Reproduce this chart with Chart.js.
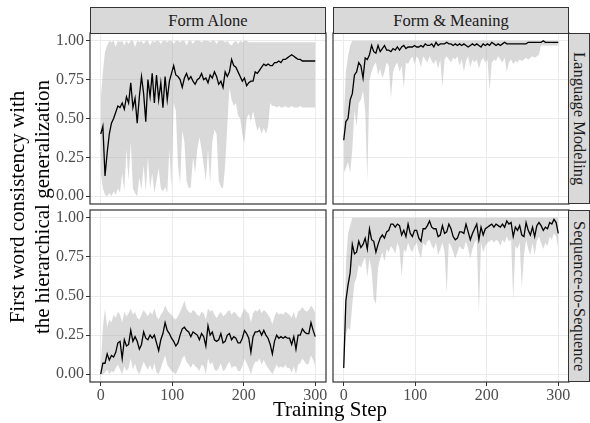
<!DOCTYPE html>
<html>
<head>
<meta charset="utf-8">
<title>First word consistency</title>
<script src="https://cdn.jsdelivr.net/npm/chart.js@4.4.1/dist/chart.umd.min.js"></script>
<style>
  body { margin: 0; width: 590px; height: 423px; position: relative; overflow: hidden; background: #fff; font-family: "Liberation Serif", "DejaVu Serif", serif; }
  canvas { position: absolute; }
  .strip { position: absolute; box-sizing: border-box; background: #d9d9d9; border: 1px solid #333; color: #1a1a1a; font-size: 16.5px; display: flex; align-items: center; justify-content: center; white-space: nowrap; }
  .strip.v { writing-mode: vertical-rl; }
  .title { position: absolute; color: #000; font-size: 21px; text-align: center; white-space: nowrap; }
</style>
</head>
<body>
<canvas id="lmForm"></canvas>
<canvas id="lmMean"></canvas>
<canvas id="ssForm"></canvas>
<canvas id="ssMean"></canvas>

<div class="strip" style="left:90px;top:7px;width:236px;height:27px">Form Alone</div>
<div class="strip" style="left:333px;top:7px;width:236px;height:27px">Form &amp; Meaning</div>
<div class="strip v" style="left:568px;top:33px;width:22px;height:171px">Language Modeling</div>
<div class="strip v" style="left:568px;top:210px;width:22px;height:172px">Sequence-to-Sequence</div>

<div class="title" style="left:-170px;top:182px;width:400px;height:50px;line-height:25px;transform:rotate(-90deg)">First word consistency with<br>the hierarchical generalization</div>
<div class="title" style="left:230px;top:397px;width:200px;line-height:24px">Training Step</div>

<script>
// training steps (every 3rd step)
var steps = [0,3,6,9,12,15,18,21,24,27,
  30,33,36,39,42,45,48,51,54,57,
  60,63,66,69,72,75,78,81,84,87,
  90,93,96,99,102,105,108,111,114,117,
  120,123,126,129,132,135,138,141,144,147,
  150,153,156,159,162,165,168,171,174,177,
  180,183,186,189,192,195,198,201,204,207,
  210,213,216,219,222,225,228,231,234,237,
  240,243,246,249,252,255,258,261,264,267,
  270,273,276,279,282,285,288,291,294,297,
  300];

var xTicks = [0, 100, 200, 300];
var yTicks = [0, 0.25, 0.5, 0.75, 1];

// Language Modeling / Form Alone
var lmFormLine = [0.40,0.45,0.13,0.28,0.40,0.47,0.50,0.54,0.58,0.57,
  0.60,0.56,0.64,0.60,0.73,0.57,0.63,0.47,0.64,0.77,
  0.66,0.48,0.75,0.64,0.79,0.60,0.78,0.62,0.73,0.57,
  0.77,0.62,0.74,0.79,0.84,0.78,0.77,0.75,0.70,0.76,
  0.79,0.75,0.77,0.74,0.72,0.75,0.76,0.79,0.75,0.76,
  0.73,0.78,0.76,0.80,0.77,0.72,0.74,0.70,0.80,0.77,
  0.80,0.88,0.84,0.83,0.80,0.77,0.74,0.76,0.71,0.73,
  0.74,0.74,0.80,0.79,0.81,0.83,0.85,0.84,0.85,0.84,
  0.84,0.86,0.86,0.87,0.86,0.88,0.88,0.89,0.90,0.91,
  0.90,0.89,0.88,0.88,0.87,0.87,0.87,0.87,0.87,0.87,
  0.87];
var lmFormHi = [0.62,0.80,0.93,0.97,1.00,0.99,1.00,0.96,1.00,0.99,
  1.00,0.97,1.00,0.98,1.00,1.00,0.96,1.00,0.99,1.00,
  0.98,1.00,1.00,0.97,1.00,0.99,1.00,1.00,0.98,1.00,
  1.00,0.99,1.00,1.00,0.98,1.00,1.00,0.99,1.00,1.00,
  0.97,1.00,1.00,0.98,1.00,1.00,1.00,0.99,1.00,1.00,
  1.00,0.99,1.00,1.00,0.98,1.00,1.00,1.00,0.99,1.00,
  0.98,0.97,0.99,1.00,0.98,1.00,0.99,1.00,1.00,0.99,
  0.99,0.99,0.99,0.99,0.99,0.99,0.99,0.99,0.99,0.99,
  0.99,0.99,0.99,0.99,0.99,0.99,0.99,0.99,0.99,0.99,
  0.99,0.99,0.99,0.99,0.99,0.99,0.99,0.99,0.99,0.99,
  0.99];
var lmFormLo = [0.15,0.05,0.01,0.00,0.02,0.00,0.03,0.01,0.05,0.02,
  0.15,0.03,0.30,0.10,0.35,0.05,0.02,0.00,0.12,0.04,
  0.20,0.03,0.25,0.05,0.15,0.02,0.10,0.18,0.05,0.03,
  0.06,0.02,0.30,0.05,0.60,0.55,0.20,0.08,0.42,0.35,
  0.10,0.05,0.06,0.25,0.15,0.30,0.38,0.30,0.20,0.10,
  0.30,0.08,0.35,0.43,0.40,0.10,0.06,0.05,0.20,0.45,
  0.70,0.62,0.58,0.60,0.52,0.50,0.40,0.34,0.50,0.53,
  0.48,0.55,0.48,0.42,0.45,0.40,0.44,0.40,0.45,0.60,
  0.58,0.58,0.57,0.58,0.57,0.57,0.58,0.57,0.57,0.58,
  0.57,0.57,0.57,0.58,0.57,0.57,0.57,0.57,0.57,0.57,
  0.57];

// Language Modeling / Form & Meaning
var lmMeanLine = [0.36,0.48,0.50,0.62,0.66,0.78,0.80,0.86,0.84,0.76,
  0.89,0.88,0.91,0.97,0.93,0.92,0.97,0.93,0.95,0.97,
  0.94,0.94,0.93,0.95,0.94,0.96,0.94,0.96,0.97,0.95,
  0.96,0.96,0.96,0.97,0.96,0.96,0.97,0.96,0.98,0.97,
  0.97,0.98,0.96,0.99,0.97,0.98,0.98,0.98,0.99,0.98,
  0.98,0.97,0.98,0.97,0.98,0.97,0.98,0.97,0.96,0.97,
  0.98,0.97,0.98,0.97,0.96,0.98,0.97,0.98,0.97,0.99,
  0.98,0.97,0.98,0.97,0.98,0.99,0.98,0.98,0.98,0.98,
  0.98,0.98,0.98,0.98,0.98,0.98,0.99,0.99,0.99,0.99,
  0.99,0.99,0.99,1.00,0.99,0.99,0.99,0.99,0.99,0.99,
  0.99];
var lmMeanHi = [0.50,0.80,0.90,0.97,1.00,1.00,1.00,1.00,1.00,1.00,
  1.00,1.00,1.00,1.00,1.00,1.00,1.00,1.00,1.00,1.00,
  1.00,1.00,1.00,1.00,1.00,1.00,1.00,1.00,1.00,1.00,
  1.00,1.00,1.00,1.00,1.00,1.00,1.00,1.00,1.00,1.00,
  1.00,1.00,1.00,1.00,1.00,1.00,1.00,1.00,1.00,1.00,
  1.00,1.00,1.00,1.00,1.00,1.00,1.00,1.00,1.00,1.00,
  1.00,1.00,1.00,1.00,1.00,1.00,1.00,1.00,1.00,1.00,
  1.00,1.00,1.00,1.00,1.00,1.00,1.00,1.00,1.00,1.00,
  1.00,1.00,1.00,1.00,1.00,1.00,1.00,1.00,1.00,1.00,
  1.00,1.00,1.00,1.00,1.00,1.00,1.00,1.00,1.00,1.00,
  1.00];
var lmMeanLo = [0.15,0.18,0.22,0.15,0.30,0.55,0.45,0.60,0.62,0.68,
  0.55,0.10,0.75,0.80,0.84,0.86,0.78,0.82,0.76,0.80,
  0.86,0.84,0.63,0.80,0.84,0.86,0.80,0.84,0.70,0.86,
  0.85,0.88,0.90,0.85,0.90,0.88,0.83,0.90,0.88,0.86,
  0.90,0.87,0.85,0.88,0.82,0.88,0.70,0.88,0.90,0.88,
  0.86,0.89,0.88,0.90,0.84,0.88,0.80,0.87,0.90,0.83,
  0.88,0.86,0.88,0.82,0.87,0.89,0.86,0.88,0.68,0.86,
  0.88,0.87,0.90,0.88,0.86,0.89,0.80,0.86,0.88,0.85,
  0.87,0.86,0.88,0.87,0.88,0.89,0.88,0.89,0.90,0.89,
  0.90,0.91,0.97,0.97,0.97,0.97,0.97,0.97,0.97,0.97,
  0.97];

// Sequence-to-Sequence / Form Alone
var ssFormLine = [0.00,0.07,0.07,0.13,0.09,0.12,0.11,0.14,0.20,0.21,
  0.10,0.22,0.18,0.19,0.28,0.21,0.24,0.21,0.16,0.19,
  0.27,0.23,0.22,0.25,0.23,0.25,0.20,0.15,0.22,0.26,
  0.33,0.28,0.26,0.23,0.21,0.18,0.20,0.25,0.29,0.30,
  0.28,0.27,0.24,0.27,0.26,0.25,0.22,0.26,0.24,0.18,
  0.31,0.25,0.27,0.22,0.21,0.22,0.26,0.20,0.21,0.25,
  0.26,0.22,0.24,0.23,0.20,0.20,0.23,0.28,0.26,0.23,
  0.14,0.24,0.27,0.27,0.28,0.25,0.28,0.25,0.23,0.19,
  0.13,0.21,0.25,0.23,0.24,0.23,0.24,0.23,0.23,0.19,
  0.24,0.16,0.25,0.25,0.29,0.27,0.26,0.26,0.33,0.28,
  0.24];
var ssFormHi = [0.05,0.30,0.42,0.30,0.35,0.33,0.38,0.36,0.40,0.38,
  0.33,0.40,0.37,0.39,0.42,0.38,0.40,0.36,0.35,0.38,
  0.41,0.39,0.37,0.40,0.38,0.42,0.37,0.35,0.38,0.40,
  0.44,0.41,0.39,0.38,0.36,0.35,0.37,0.40,0.43,0.47,
  0.42,0.40,0.39,0.41,0.40,0.38,0.37,0.40,0.39,0.35,
  0.42,0.40,0.41,0.38,0.36,0.38,0.40,0.37,0.38,0.40,
  0.41,0.38,0.40,0.39,0.37,0.36,0.39,0.42,0.40,0.39,
  0.33,0.39,0.41,0.40,0.42,0.39,0.41,0.40,0.38,0.36,
  0.32,0.37,0.40,0.38,0.39,0.38,0.40,0.39,0.38,0.36,
  0.40,0.35,0.40,0.41,0.43,0.41,0.40,0.41,0.44,0.42,
  0.39];
var ssFormLo = [0.00,0.00,0.01,0.03,0.00,0.02,0.01,0.04,0.06,0.03,
  0.00,0.05,0.02,0.04,0.10,0.03,0.07,0.02,0.00,0.04,
  0.08,0.05,0.03,0.06,0.02,0.07,0.01,0.00,0.04,0.08,
  0.12,0.06,0.04,0.02,0.01,0.00,0.03,0.06,0.10,0.12,
  0.08,0.06,0.04,0.07,0.05,0.04,0.02,0.06,0.05,0.00,
  0.10,0.06,0.08,0.03,0.02,0.04,0.07,0.02,0.03,0.06,
  0.08,0.04,0.05,0.05,0.02,0.02,0.05,0.10,0.07,0.04,
  0.00,0.05,0.08,0.08,0.10,0.06,0.09,0.06,0.04,0.02,
  0.00,0.03,0.06,0.04,0.05,0.04,0.06,0.04,0.04,0.01,
  0.05,0.00,0.06,0.07,0.10,0.08,0.06,0.07,0.12,0.09,
  0.05];

// Sequence-to-Sequence / Form & Meaning
var ssMeanLine = [0.04,0.47,0.57,0.65,0.83,0.77,0.78,0.85,0.81,0.83,
  0.87,0.80,0.93,0.86,0.85,0.78,0.83,0.87,0.89,0.87,
  0.91,0.92,0.96,0.96,0.94,0.96,0.95,0.89,0.92,0.88,
  0.96,0.90,0.88,0.92,0.92,0.87,0.85,0.93,0.93,0.95,
  0.98,0.94,0.93,0.93,0.88,0.89,0.95,0.90,0.91,0.96,
  0.93,0.88,0.86,0.87,0.91,0.91,0.90,0.96,0.91,0.86,
  0.90,0.93,0.96,0.86,0.94,0.89,0.93,0.94,0.95,0.96,
  0.94,0.96,0.95,0.94,0.96,0.94,0.98,0.96,0.97,0.88,
  0.94,0.92,0.95,0.89,0.88,0.97,0.92,0.89,0.94,0.88,
  0.95,0.97,0.95,0.92,0.94,0.93,0.97,0.96,0.99,0.97,
  0.90];
var ssMeanHi = [0.10,0.70,0.90,0.95,1.00,1.00,1.00,1.00,1.00,1.00,
  1.00,1.00,1.00,1.00,1.00,1.00,1.00,1.00,1.00,1.00,
  1.00,1.00,1.00,1.00,1.00,1.00,1.00,1.00,1.00,1.00,
  1.00,1.00,1.00,1.00,1.00,1.00,1.00,1.00,1.00,1.00,
  1.00,1.00,1.00,1.00,1.00,1.00,1.00,1.00,1.00,1.00,
  1.00,1.00,1.00,1.00,1.00,1.00,1.00,1.00,1.00,1.00,
  1.00,1.00,1.00,1.00,1.00,1.00,1.00,1.00,1.00,1.00,
  1.00,1.00,1.00,1.00,1.00,1.00,1.00,1.00,1.00,1.00,
  1.00,1.00,1.00,1.00,1.00,1.00,1.00,1.00,1.00,1.00,
  1.00,1.00,1.00,1.00,1.00,1.00,1.00,1.00,1.00,1.00,
  1.00];
var ssMeanLo = [0.02,0.25,0.30,0.28,0.45,0.58,0.62,0.70,0.68,0.72,
  0.75,0.62,0.74,0.66,0.48,0.45,0.68,0.74,0.78,0.72,
  0.80,0.78,0.82,0.80,0.77,0.84,0.80,0.62,0.80,0.78,
  0.84,0.80,0.78,0.82,0.84,0.78,0.74,0.84,0.82,0.85,
  0.86,0.82,0.80,0.84,0.76,0.80,0.84,0.78,0.52,0.84,
  0.82,0.78,0.74,0.78,0.82,0.80,0.80,0.85,0.80,0.74,
  0.80,0.84,0.86,0.40,0.84,0.78,0.82,0.84,0.85,0.86,
  0.84,0.86,0.85,0.82,0.86,0.84,0.88,0.85,0.86,0.48,
  0.82,0.80,0.84,0.55,0.76,0.86,0.80,0.76,0.84,0.76,
  0.85,0.88,0.84,0.80,0.84,0.82,0.88,0.86,0.90,0.88,
  0.80];

var FONT = '"Liberation Serif", "DejaVu Serif", serif';
var RIBBON = 'rgba(160,160,160,0.4)';
var M = 12; // spare room round each chart area

function pts(ys) {
  return steps.map(function(s, i) { return {x: s, y: ys[i]}; });
}

// panel border, like ggplot's theme_bw
var frame = {
  id: 'frame',
  afterDraw: function(chart) {
    var a = chart.chartArea, c = chart.ctx;
    c.save();
    c.strokeStyle = '#333';
    c.lineWidth = 1.2;
    c.strokeRect(a.left, a.top, a.right - a.left, a.bottom - a.top);
    c.restore();
  }
};

function panel(id, box, line, hi, lo, showX, showY) {
  var yW = showY ? 90 : 0;
  var xH = showX ? 26 : 0;
  var cv = document.getElementById(id);
  cv.width = box.w + yW + 2 * M;
  cv.height = box.h + xH + 2 * M;
  cv.style.left = (box.x - yW - M) + 'px';
  cv.style.top = (box.y - M) + 'px';

  new Chart(cv, {
    type: 'line',
    data: {
      datasets: [
        {data: pts(line), borderColor: '#000', borderWidth: 1.3, pointRadius: 0, fill: false},
        {data: pts(hi), borderWidth: 0, pointRadius: 0, fill: false, backgroundColor: RIBBON},
        {data: pts(lo), borderWidth: 0, pointRadius: 0, fill: '-1', backgroundColor: RIBBON}
      ]
    },
    options: {
      responsive: false,
      animation: false,
      events: [],
      layout: {padding: M},
      plugins: {legend: {display: false}, tooltip: {enabled: false}},
      scales: {
        x: {
          type: 'linear', min: -15, max: 315,
          afterBuildTicks: function(s) { s.ticks = xTicks.map(function(v) { return {value: v}; }); },
          afterFit: function(s) { s.height = xH; s.paddingLeft = 0; s.paddingRight = 0; },
          border: {display: false},
          grid: {color: '#ebebeb', lineWidth: 1, drawTicks: showX, tickLength: 4, tickColor: '#333'},
          ticks: {display: showX, color: '#4d4d4d', font: {family: FONT, size: 16}, padding: 0, maxRotation: 0}
        },
        y: {
          min: -0.05, max: 1.05,
          afterBuildTicks: function(s) { s.ticks = yTicks.map(function(v) { return {value: v}; }); },
          afterFit: function(s) { s.width = yW; s.paddingTop = 0; s.paddingBottom = 0; },
          border: {display: false},
          grid: {color: '#ebebeb', lineWidth: 1, drawTicks: showY, tickLength: 4, tickColor: '#333'},
          ticks: {display: showY, color: '#4d4d4d', font: {family: FONT, size: 16}, padding: 2,
            callback: function(v) { return v.toFixed(2); }}
        }
      }
    },
    plugins: [frame]
  });
}

panel('lmForm', {x: 90, y: 33, w: 236, h: 171}, lmFormLine, lmFormHi, lmFormLo, false, true);
panel('lmMean', {x: 333, y: 33, w: 236, h: 171}, lmMeanLine, lmMeanHi, lmMeanLo, false, false);
panel('ssForm', {x: 90, y: 210, w: 236, h: 172}, ssFormLine, ssFormHi, ssFormLo, true, true);
panel('ssMean', {x: 333, y: 210, w: 236, h: 172}, ssMeanLine, ssMeanHi, ssMeanLo, true, false);
</script>
</body>
</html>
